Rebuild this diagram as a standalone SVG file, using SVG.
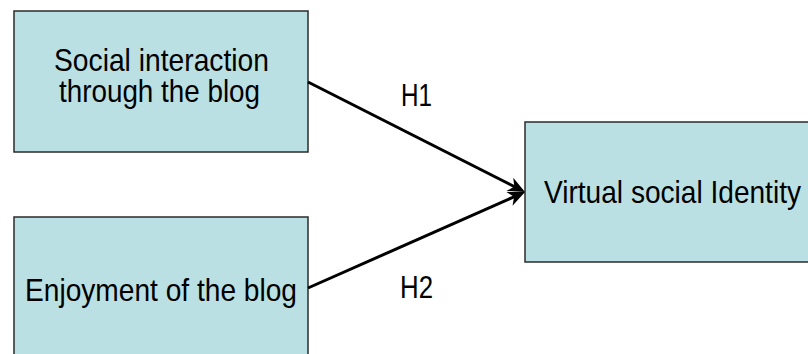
<svg xmlns="http://www.w3.org/2000/svg" width="808" height="354" viewBox="0 0 808 354">
  <style>
    .box { fill: #BBE0E3; stroke: #2b2b2b; stroke-width: 1.5; }
    .lbl { font-family: "Liberation Sans", Arial, sans-serif; font-size: 32px; fill: #000; }
    .edge { stroke: #000; stroke-width: 3; fill: none; marker-end: url(#stealth); }
  </style>
  <defs>
    <marker id="stealth" markerUnits="userSpaceOnUse" markerWidth="40" markerHeight="40" viewBox="-20 -20 40 40" refX="0" refY="0" orient="auto" overflow="visible">
      <path d="M10,0 L-7,-7.5 L-2,0 L-7,7.5 Z" fill="#000"/>
    </marker>
  </defs>
  <rect width="808" height="354" fill="#fff"/>

  <g id="social-interaction">
    <rect class="box" x="14" y="11" width="294" height="141"/>
    <text class="lbl" x="54" y="71" textLength="215" lengthAdjust="spacingAndGlyphs">Social interaction</text>
    <text class="lbl" x="59" y="102" textLength="201" lengthAdjust="spacingAndGlyphs">through the blog</text>
  </g>

  <g id="enjoyment">
    <rect class="box" x="14" y="217" width="294" height="150"/>
    <text class="lbl" x="25" y="301" textLength="272" lengthAdjust="spacingAndGlyphs">Enjoyment of the blog</text>
  </g>

  <g id="virtual-identity">
    <rect class="box" x="525" y="122" width="300" height="140"/>
    <text class="lbl" x="544" y="203" textLength="257" lengthAdjust="spacingAndGlyphs">Virtual social Identity</text>
  </g>

  <g id="connectors">
    <line class="edge" x1="308" y1="82" x2="516.1" y2="187.5"/>
    <line class="edge" x1="308" y1="288" x2="515.9" y2="196"/>
    <text class="lbl" x="401" y="106" textLength="31" lengthAdjust="spacingAndGlyphs">H1</text>
    <text class="lbl" x="400" y="298" textLength="33" lengthAdjust="spacingAndGlyphs">H2</text>
  </g>
</svg>
